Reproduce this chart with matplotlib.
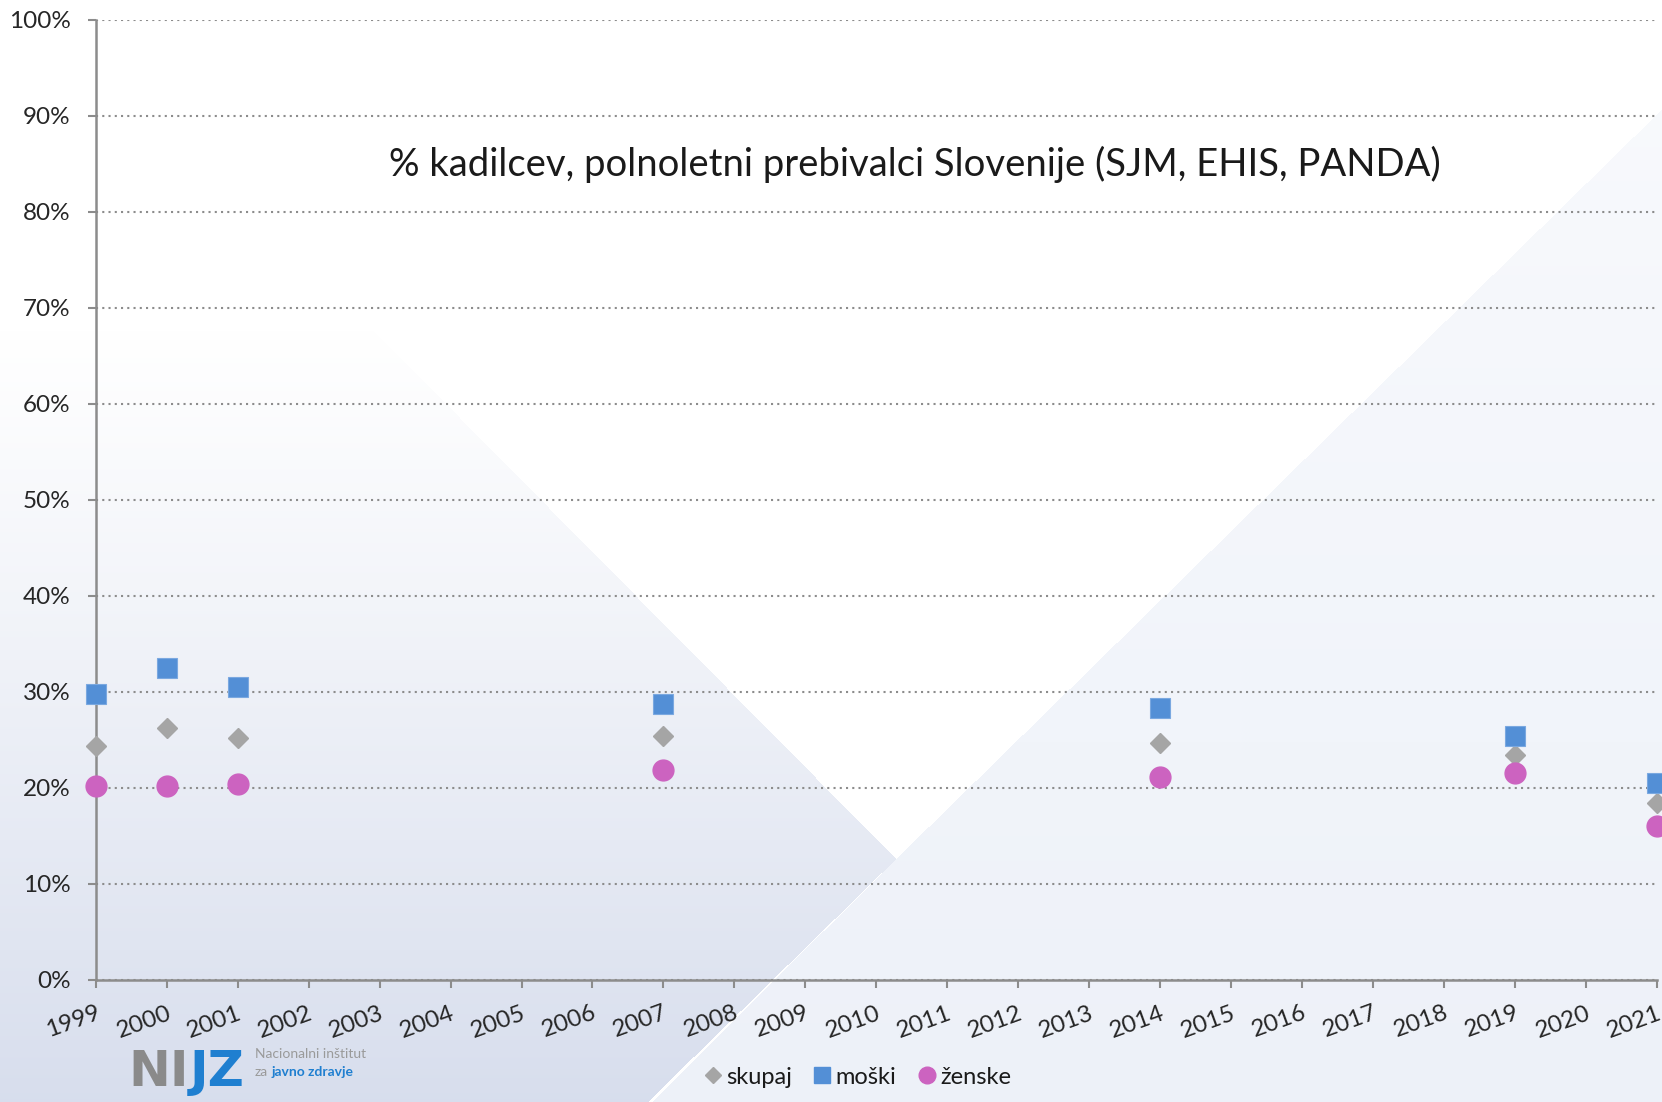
import numpy as np
import matplotlib
matplotlib.use("Agg")
import matplotlib.pyplot as plt
from matplotlib.lines import Line2D

plt.rcParams['font.family'] = ['Lato', 'DejaVu Sans']

# podatki (odčitani s slike), % kadilcev
leta = [1999, 2000, 2001, 2007, 2014, 2019, 2021]
skupaj = [24.4, 26.2, 25.2, 25.4, 24.7, 23.4, 18.4]
moski = [29.8, 32.5, 30.5, 28.8, 28.3, 25.4, 20.5]
zenske = [20.2, 20.2, 20.4, 21.9, 21.1, 21.6, 16.0]
vsa_leta = list(range(1999, 2022))

W, H = 1662, 1102
fig = plt.figure(figsize=(W / 100, H / 100), dpi=100)

# ozadje - gradient s trikotniki
yy, xx = np.mgrid[0:H, 0:W].astype(float)
img = np.ones((H, W, 3))
s = 1.06  # prikazano -> polno
def side(p1, p2, x, y):
    return (p2[0] - p1[0]) * (y - p1[1]) - (p2[1] - p1[1]) * (x - p1[0])
V = (845 * s, 810 * s)
A = (400 * s, 360 * s)
B = (610 * s, 1040 * s)
C = (1568 * s, 90 * s)
left_reg = (side(A, V, xx, yy) > 0) & (side(V, B, xx, yy) > 0)
right_reg = (side(V, C, xx, yy) > 0) & (side(V, B, xx, yy) < 0)
dark = np.array([0.845, 0.87, 0.93])
light = np.array([0.93, 0.945, 0.975])
t = np.clip((yy - 330) / (H - 330), 0, 1) ** 1.1
t_r = np.clip((yy - 100) / (H - 100), 0, 1)
for k in range(3):
    col = 1 - t * (1 - dark[k])
    img[..., k] = np.where(left_reg, col, img[..., k])
    col2 = 1 - (0.4 + 0.6 * t_r) * (1 - light[k])
    img[..., k] = np.where(right_reg, col2, img[..., k])
bg = fig.add_axes([0, 0, 1, 1], zorder=-10)
bg.imshow(img, aspect='auto', extent=[0, W, H, 0], interpolation='bilinear')
bg.axis('off')

ax = fig.add_axes([95.7 / W, 1 - 980 / H, (1657 - 95.7) / W, (980 - 20) / H])
ax.patch.set_alpha(0)

ax.plot(leta, skupaj, 'D', ms=10.5, color='#a5a5a5', mec='#a5a5a5', clip_on=False, zorder=3)
ax.plot(leta, moski, 's', ms=14.5, color='#538fd6', mec='#7aa8e0', mew=0.8, clip_on=False, zorder=3)
ax.plot(leta, zenske, 'o', ms=15, color='#cc63c0', mec='#cc63c0', clip_on=False, zorder=3)

ax.set_xlim(1999, 2021)
ax.set_ylim(0, 100)
ax.set_yticks(range(0, 101, 10))
ax.set_yticklabels([f'{v}%' for v in range(0, 101, 10)])
ax.set_xticks(vsa_leta)
ax.set_xticklabels([str(l) for l in vsa_leta], rotation=20, ha='right', rotation_mode='anchor')
ax.tick_params(axis='both', direction='out', length=6, width=1.5, color='#8c8c8c',
               labelsize=17.5, labelcolor='#262626')
ax.tick_params(axis='y', pad=12)
ax.tick_params(axis='x', pad=10)
for sp in ['top', 'right']:
    ax.spines[sp].set_visible(False)
for sp in ['left', 'bottom']:
    ax.spines[sp].set_color('#8c8c8c')
    ax.spines[sp].set_linewidth(1.8)
ax.yaxis.grid(True, linestyle=(0, (1, 2)), color='#8c8c8c', linewidth=1.5)
ax.set_axisbelow(True)

fig.text(915 / W, 1 - 164 / H, '% kadilcev, polnoletni prebivalci Slovenije (SJM, EHIS, PANDA)',
         ha='center', va='center', fontsize=27.5, color='#1a1a1a')

handles = [
    Line2D([], [], marker='D', ls='', ms=8, color='#a5a5a5'),
    Line2D([], [], marker='s', ls='', ms=12, color='#538fd6'),
    Line2D([], [], marker='o', ls='', ms=12, color='#cc63c0'),
]
fig.legend(handles, ['skupaj', 'moški', 'ženske'], loc='center', ncol=3,
           bbox_to_anchor=(856 / W, 1 - 1077 / H), frameon=False, fontsize=17,
           handletextpad=0.05, columnspacing=0.8, handlelength=1.0, labelcolor='#1a1a1a')

# logotip
ni = fig.text(128 / W, 1 - 1072 / H, 'NI', fontsize=36, color='#8a8a8a', fontweight='bold',
              va='center', ha='left', family=['DejaVu Sans'])
fig.canvas.draw()
ext = ni.get_window_extent()
fig.text((ext.x1 + 1) / W, 1 - 1072 / H, 'JZ', fontsize=36, color='#1f7fd0', fontweight='bold',
         va='center', ha='left', family=['DejaVu Sans'])
fig.text(255 / W, 1 - 1054 / H, 'Nacionalni inštitut', fontsize=10, color='#9a9a9a',
         va='center', ha='left')
za = fig.text(255 / W, 1 - 1072 / H, 'za', fontsize=10, color='#9a9a9a', va='center', ha='left')
fig.canvas.draw()
ez = za.get_window_extent()
fig.text((ez.x1 + 3) / W, 1 - 1072 / H, 'javno zdravje', fontsize=10, color='#1f7fd0',
         fontweight='bold', va='center', ha='left')

fig.savefig('out.png', dpi=100)
